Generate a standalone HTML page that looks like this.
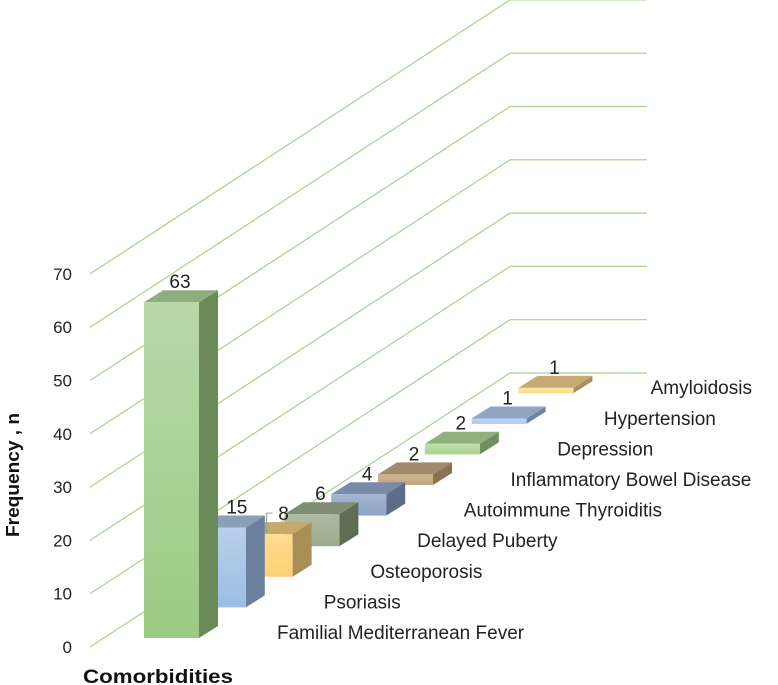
<!DOCTYPE html>
<html><head><meta charset="utf-8"><style>
html,body{margin:0;padding:0;background:#fff;}
svg{display:block;font-family:"Liberation Sans",sans-serif;}
</style></head><body>
<svg id="chart" width="778" height="685" viewBox="0 0 778 685" xmlns="http://www.w3.org/2000/svg">
<defs id="defs"></defs>
<g id="grid"></g>
<g id="yticks"></g>
<g id="bars"></g>
<g id="catlabels"></g>
<text transform="translate(19,475) rotate(-90)" text-anchor="middle" font-size="18" font-weight="bold" fill="#111" textLength="124" lengthAdjust="spacingAndGlyphs">Frequency , n</text>
<text x="83" y="683" font-size="19" font-weight="bold" fill="#111" textLength="150" lengthAdjust="spacingAndGlyphs">Comorbidities</text>
</svg>
<script>
const categories = ["Familial Mediterranean Fever","Psoriasis","Osteoporosis","Delayed Puberty","Autoimmune Thyroiditis","Inflammatory Bowel Disease","Depression","Hypertension","Amyloidosis"];
const values = [63,15,8,6,4,2,2,1,1];
const yTicks = [0,10,20,30,40,50,60,70];

const palette = [
 {f1:"#b7d9a8",f2:"#9bcb83",side:"#6a8a59",top:"#90ad80"},
 {f1:"#b8d0ec",f2:"#9bbde3",side:"#6c819d",top:"#8aa0b9"},
 {f1:"#ffdc92",f2:"#fdd076",side:"#a88e58",top:"#c7a96c"},
 {f1:"#aebba3",f2:"#9aab8c",side:"#5e6d54",top:"#7f8e74"},
 {f1:"#a5b5d2",f2:"#8fa3c6",side:"#5d6c88",top:"#7c8aa9"},
 {f1:"#cdb690",f2:"#c2a87e",side:"#8a7353",top:"#a08a6a"},
 {f1:"#c0e0aa",f2:"#aad392",side:"#6f905f",top:"#8fb27c"},
 {f1:"#bfd6f2",f2:"#a8c6ec",side:"#6c84a4",top:"#8fa4c0"},
 {f1:"#ffe6a8",f2:"#fdd885",side:"#a88f60",top:"#c5aa74"}
];
const NS="http://www.w3.org/2000/svg";
function el(tag,attrs,parent){const e=document.createElementNS(NS,tag);for(const k in attrs)e.setAttribute(k,attrs[k]);parent.appendChild(e);return e;}
const unit=5.33;
const yFront = v => 647 - v*unit;
const slotX = i => 144 + 46.8*i;
const slotBottom = i => 638 - 30.6*i;
const barH = v => v*unit;
const W=55, DX=19, DY=-12;

const grid=document.getElementById('grid');
yTicks.forEach(t=>{
  const y0=yFront(t);
  const p=el('polyline',{points:`90,${y0} 510,${y0-274} 647,${y0-274}`,fill:"none",stroke:"#a9d18e","stroke-width":1.2},grid);
  
  
});
const yt=document.getElementById('yticks');
yTicks.forEach(t=>{
  const tx=el('text',{x:72,y:yFront(t)+6,"text-anchor":"end","font-size":17,fill:"#222"},yt);
  tx.textContent=t;
  
  
});
const defs=document.getElementById('defs');
const bars=document.getElementById('bars');
const labelShift=[0,10,0,0,0,0,0,0,0];
for(let i=values.length-1;i>=0;i--){
  const c=palette[i];
  const g=el('linearGradient',{id:'g'+i,x1:0,y1:0,x2:0,y2:1},defs);
  el('stop',{offset:0,"stop-color":c.f1},g);
  el('stop',{offset:1,"stop-color":c.f2},g);
  const x=slotX(i), b=slotBottom(i), h=barH(values[i]), t=b-h;
  const grp=el('g',{},bars);
  
  
  el('polygon',{points:`${x+W},${b} ${x+W+DX},${b+DY} ${x+W+DX},${t+DY} ${x+W},${t}`,fill:c.side},grp);
  el('polygon',{points:`${x},${t} ${x+DX},${t+DY} ${x+W+DX},${t+DY} ${x+W},${t}`,fill:c.top},grp);
  el('rect',{x:x,y:t,width:W,height:h,fill:`url(#g${i})`},grp);
  const lbl=el('text',{x:x+36+labelShift[i],y:t-14,"text-anchor":"middle","font-size":19,fill:"#222"},grp);
  lbl.textContent=values[i];
  
  
}
{
  const i=2,x=slotX(i),t=slotBottom(i)-barH(values[i]);
  el('polyline',{points:`${x+29},${t-2} ${x+29},${t-21} ${x+35},${t-21}`,fill:"none",stroke:"#999","stroke-width":1},bars);
  const lab=bars.querySelectorAll('text')[values.length-1-i];
  lab.setAttribute('x',x+46);
}
const cl=document.getElementById('catlabels');
categories.forEach((c,i)=>{
  const tx=el('text',{x:277+46.7*i,y:slotBottom(i)+1,"font-size":19,fill:"#222"},cl);
  tx.textContent=c;
  
  
});
</script>
</body></html>
